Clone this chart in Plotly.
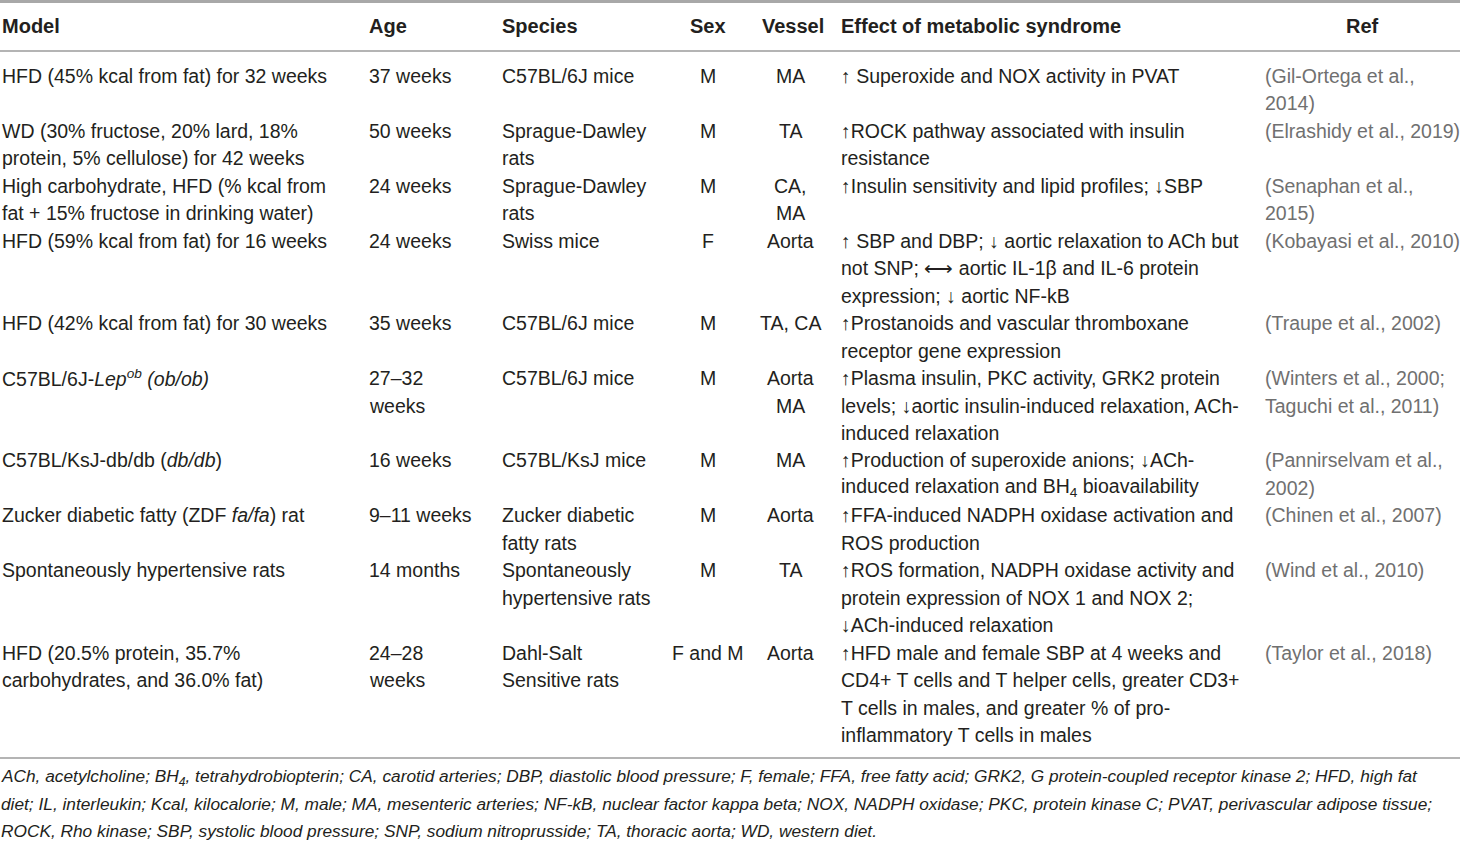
import plotly.graph_objects as go

# ---- Table data ----
headers = ["Model", "Age", "Species", "Sex", "Vessel", "Effect of metabolic syndrome", "Ref"]

model = [
    "HFD (45% kcal from fat) for 32 weeks",
    "WD (30% fructose, 20% lard, 18%<br>protein, 5% cellulose) for 42 weeks",
    "High carbohydrate, HFD (% kcal from<br>fat + 15% fructose in drinking water)",
    "HFD (59% kcal from fat) for 16 weeks",
    "HFD (42% kcal from fat) for 30 weeks",
    "C57BL/6J-<i>Lep</i><sup><i>ob</i></sup> <i>(ob/ob)</i>",
    "C57BL/KsJ-db/db (<i>db/db</i>)",
    "Zucker diabetic fatty (ZDF <i>fa/fa</i>) rat",
    "Spontaneously hypertensive rats",
    "HFD (20.5% protein, 35.7%<br>carbohydrates, and 36.0% fat)",
]
age = ["37 weeks", "50 weeks", "24 weeks", "24 weeks", "35 weeks", "27–32<br>weeks",
       "16 weeks", "9–11 weeks", "14 months", "24–28<br>weeks"]
species = ["C57BL/6J mice", "Sprague-Dawley<br>rats", "Sprague-Dawley<br>rats", "Swiss mice",
           "C57BL/6J mice", "C57BL/6J mice", "C57BL/KsJ mice", "Zucker diabetic<br>fatty rats",
           "Spontaneously<br>hypertensive rats", "Dahl-Salt<br>Sensitive rats"]
sex = ["M", "M", "M", "F", "M", "M", "M", "M", "M", "F and M"]
vessel = ["MA", "TA", "CA,<br>MA", "Aorta", "TA, CA", "Aorta<br>MA", "MA", "Aorta", "TA", "Aorta"]
effect = [
    "↑ Superoxide and NOX activity in PVAT",
    "↑ROCK pathway associated with insulin<br>resistance",
    "↑Insulin sensitivity and lipid profiles; ↓SBP",
    "↑ SBP and DBP; ↓ aortic relaxation to ACh but<br>not SNP; ⟷ aortic IL-1β and IL-6 protein<br>expression; ↓ aortic NF-kB",
    "↑Prostanoids and vascular thromboxane<br>receptor gene expression",
    "↑Plasma insulin, PKC activity, GRK2 protein<br>levels; ↓aortic insulin-induced relaxation, ACh-<br>induced relaxation",
    "↑Production of superoxide anions; ↓ACh-<br>induced relaxation and BH<sub>4</sub> bioavailability",
    "↑FFA-induced NADPH oxidase activation and<br>ROS production",
    "↑ROS formation, NADPH oxidase activity and<br>protein expression of NOX 1 and NOX 2;<br>↓ACh-induced relaxation",
    "↑HFD male and female SBP at 4 weeks and<br>CD4+ T cells and T helper cells, greater CD3+<br>T cells in males, and greater % of pro-<br>inflammatory T cells in males",
]
refs = ["(Gil-Ortega et al.,<br>2014)", "(Elrashidy et al., 2019)", "(Senaphan et al.,<br>2015)",
        "(Kobayasi et al., 2010)", "(Traupe et al., 2002)", "(Winters et al., 2000;<br>Taguchi et al., 2011)",
        "(Pannirselvam et al.,<br>2002)", "(Chinen et al., 2007)", "(Wind et al., 2010)",
        "(Taylor et al., 2018)"]
footnote = [
    "ACh, acetylcholine; BH<sub>4</sub>, tetrahydrobiopterin; CA, carotid arteries; DBP, diastolic blood pressure; F, female; FFA, free fatty acid; GRK2, G protein-coupled receptor kinase 2; HFD, high fat",
    "diet; IL, interleukin; Kcal, kilocalorie; M, male; MA, mesenteric arteries; NF-kB, nuclear factor kappa beta; NOX, NADPH oxidase; PKC, protein kinase C; PVAT, perivascular adipose tissue;",
    "ROCK, Rho kinase; SBP, systolic blood pressure; SNP, sodium nitroprusside; TA, thoracic aorta; WD, western diet.",
]

columns = [model, age, species, sex, vessel, effect, refs]

# ---- Layout (pixel space) ----
W, H = 1460, 842
FONT = "Liberation Sans, Arial, sans-serif"
TXT = "#231f20"
REFC = "#707070"
col_x = [0, 367, 500, 708, 790, 839, 1263]
col_anchor = ["left", "left", "left", "center", "center", "left", "left"]
header_x = [0, 367, 500, 708, 793, 839, 1362]
header_anchor = ["left", "left", "left", "center", "center", "left", "center"]
header_y = 26
first_y = 76
pitch = 27.46
fs = 19.5
hfs = 20

ann = []
for h, x, a in zip(headers, header_x, header_anchor):
    ann.append(dict(x=x, y=header_y, text="<b>" + h + "</b>", xanchor=a, yanchor="middle",
                    showarrow=False, font=dict(family=FONT, size=hfs, color=TXT)))

y = first_y
for r in range(len(model)):
    nlines = max(len(col[r].split("<br>")) for col in columns)
    for c, col in enumerate(columns):
        for i, line in enumerate(col[r].split("<br>")):
            ann.append(dict(x=col_x[c], y=y + i * pitch, text=line, xanchor=col_anchor[c],
                            yanchor="middle", showarrow=False,
                            font=dict(family=FONT, size=fs, color=REFC if c == 6 else TXT)))
    y += nlines * pitch

foot_y = [777, 804, 831]
for fy, line in zip(foot_y, footnote):
    ann.append(dict(x=0, y=fy, text="<i>" + line + "</i>", xanchor="left", yanchor="middle",
                    xshift=-1, showarrow=False, font=dict(family=FONT, size=17.3, color=TXT)))

shapes = [
    dict(type="line", x0=0, x1=W, y0=1.5, y1=1.5, line=dict(color="#a8a8a8", width=3)),
    dict(type="line", x0=0, x1=W, y0=51, y1=51, line=dict(color="#b4b4b4", width=2)),
    dict(type="line", x0=0, x1=W, y0=758, y1=758, line=dict(color="#b4b4b4", width=2)),
]

fig = go.Figure()
fig.update_layout(
    width=W, height=H, margin=dict(l=0, r=0, t=0, b=0),
    paper_bgcolor="white", plot_bgcolor="white",
    xaxis=dict(range=[0, W], visible=False, fixedrange=True),
    yaxis=dict(range=[H, 0], visible=False, fixedrange=True),
    annotations=ann, shapes=shapes, showlegend=False,
)
fig.write_html("out.html", config={"displayModeBar": False},
               post_script="document.body.style.margin='0';")
